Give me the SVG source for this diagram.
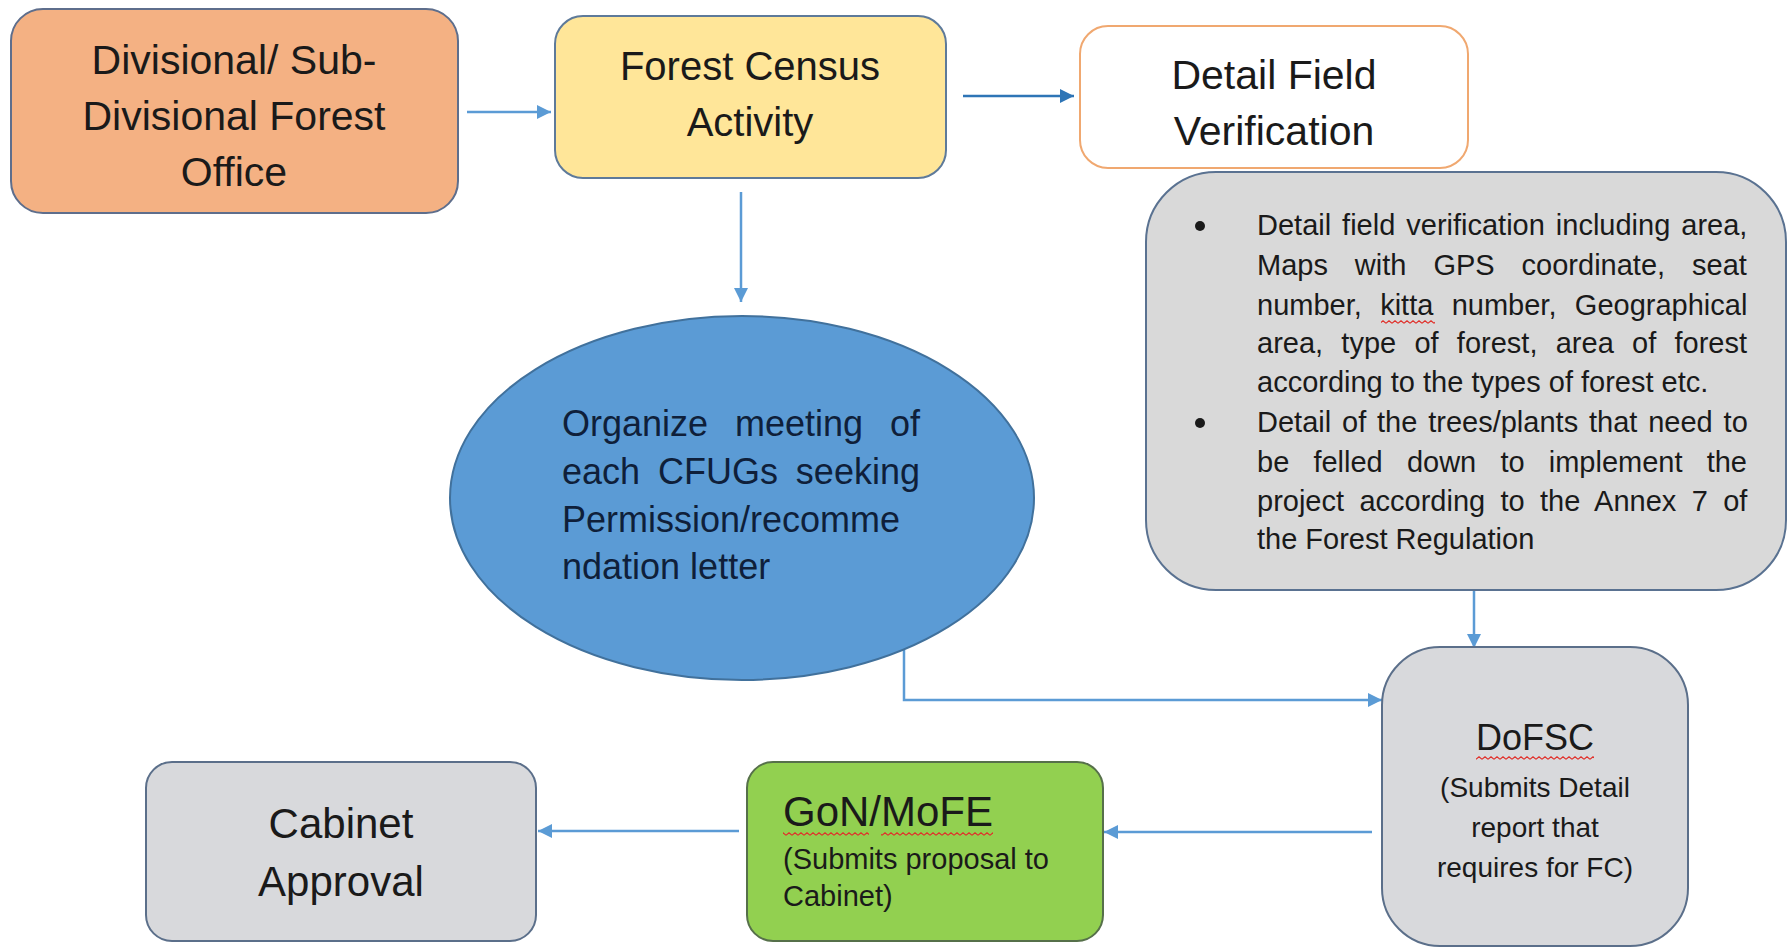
<svg xmlns="http://www.w3.org/2000/svg" width="1788" height="949" viewBox="0 0 1788 949">
<defs>
<style>
text{font-family:"Liberation Sans",Arial,sans-serif;fill:#1a1a1a}
.c{text-anchor:middle}
.big{font-size:41px}
.mid{font-size:29px}
.ell{font-size:36px;fill:#0f1f3a}
.conn{fill:none;stroke:#5B9BD5;stroke-width:2.5}
.sq{fill:url(#squig)}
</style>
<marker id="ah" markerUnits="userSpaceOnUse" markerWidth="16" markerHeight="14" refX="14" refY="7" orient="auto">
<path d="M0,0 L14,7 L0,14 z" fill="#5B9BD5"/>
</marker>
<marker id="ah2" markerUnits="userSpaceOnUse" markerWidth="16" markerHeight="14" refX="14" refY="7" orient="auto">
<path d="M0,0 L14,7 L0,14 z" fill="#2E75B6"/>
</marker>
<pattern id="squig" width="6" height="4" patternUnits="userSpaceOnUse">
<path d="M0 3.2 L3 0.8 L6 3.2" fill="none" stroke="#e0302a" stroke-width="1.1"/>
</pattern>
</defs>
<rect width="1788" height="949" fill="#ffffff"/>

<g id="connectors">
<line class="conn" x1="467" y1="112" x2="551" y2="112" marker-end="url(#ah)"/>
<line class="conn" x1="963" y1="96" x2="1074" y2="96" style="stroke:#2E75B6" marker-end="url(#ah2)"/>
<line class="conn" x1="741" y1="192" x2="741" y2="302" marker-end="url(#ah)"/>
<path class="conn" d="M904 650 V700 H1382" marker-end="url(#ah)"/>
<line class="conn" x1="1474" y1="590" x2="1474" y2="648" marker-end="url(#ah)"/>
<line class="conn" x1="1372" y1="832" x2="1104" y2="832" marker-end="url(#ah)"/>
<line class="conn" x1="739" y1="831" x2="538" y2="831" marker-end="url(#ah)"/>
</g>

<g id="divisional-office">
<rect x="11" y="9" width="447" height="204" rx="32" fill="#F4B183" stroke="#5E6E8C" stroke-width="2"/>
<text class="c big" x="234" y="74">Divisional/ Sub-</text>
<text class="c big" x="234" y="130">Divisional Forest</text>
<text class="c big" x="234" y="186">Office</text>
</g>

<g id="forest-census">
<rect x="555" y="16" width="391" height="162" rx="28" fill="#FFE699" stroke="#5E7A9A" stroke-width="2"/>
<text class="c" style="font-size:40px" x="750" y="80">Forest Census</text>
<text class="c" style="font-size:40px" x="750" y="136">Activity</text>
</g>

<g id="detail-field-verification">
<rect x="1080" y="26" width="388" height="142" rx="28" fill="#ffffff" stroke="#F0A870" stroke-width="2"/>
<text class="c big" x="1274" y="89">Detail Field</text>
<text class="c big" x="1274" y="145">Verification</text>
</g>

<g id="verification-details">
<rect x="1146" y="172" width="640" height="418" rx="70" fill="#D9D9D9" stroke="#5A7291" stroke-width="2"/>
<circle cx="1200" cy="226" r="5" fill="#1a1a1a"/>
<circle cx="1200" cy="423" r="5" fill="#1a1a1a"/>
<text class="mid" x="1257" y="235" style="word-spacing:2.9px">Detail field verification including area,</text>
<text class="mid" x="1257" y="275" style="word-spacing:18.9px">Maps with GPS coordinate, seat</text>
<text class="mid" x="1257" y="315" style="word-spacing:10.3px">number, kitta number, Geographical</text>
<text class="mid" x="1257" y="353" style="word-spacing:10.2px">area, type of forest, area of forest</text>
<text class="mid" x="1257" y="392">according to the types of forest etc.</text>
<text class="mid" x="1257" y="432" style="word-spacing:2.8px">Detail of the trees/plants that need to</text>
<text class="mid" x="1257" y="472" style="word-spacing:16.1px">be felled down to implement the</text>
<text class="mid" x="1257" y="511" style="word-spacing:7.3px">project according to the Annex 7 of</text>
<text class="mid" x="1257" y="549">the Forest Regulation</text>
<rect class="sq" x="1381" y="320" width="54" height="4"/>
</g>

<g id="organize-meeting">
<ellipse cx="742" cy="498" rx="292" ry="182" fill="#5B9BD5" stroke="#41719C" stroke-width="2"/>
<text class="ell" x="562" y="436" style="word-spacing:16.9px">Organize meeting of</text>
<text class="ell" x="562" y="484" style="word-spacing:7.9px">each CFUGs seeking</text>
<text class="ell" x="562" y="532">Permission/recomme</text>
<text class="ell" x="562" y="579">ndation letter</text>
</g>

<g id="dofsc">
<rect x="1382" y="647" width="306" height="299" rx="58" fill="#D8D9DC" stroke="#5B6F8A" stroke-width="2"/>
<text class="c" style="font-size:36px" x="1535" y="750">DoFSC</text>
<rect class="sq" x="1476" y="756" width="118" height="4"/>
<text class="c" style="font-size:28px" x="1535" y="797">(Submits Detail</text>
<text class="c" style="font-size:28px" x="1535" y="837">report that</text>
<text class="c" style="font-size:28px" x="1535" y="877">requires for FC)</text>
</g>

<g id="gon-mofe">
<rect x="747" y="762" width="356" height="179" rx="26" fill="#92D050" stroke="#56704A" stroke-width="2"/>
<text style="font-size:42px" x="783" y="826">GoN/MoFE</text>
<rect class="sq" x="783" y="832" width="86" height="4"/>
<rect class="sq" x="881" y="832" width="112" height="4"/>
<text class="mid" x="783" y="869">(Submits proposal to</text>
<text class="mid" x="783" y="906">Cabinet)</text>
</g>

<g id="cabinet-approval">
<rect x="146" y="762" width="390" height="179" rx="26" fill="#D8D9DC" stroke="#5B6F8A" stroke-width="2"/>
<text class="c" style="font-size:42px" x="341" y="838">Cabinet</text>
<text class="c" style="font-size:42px" x="341" y="896">Approval</text>
</g>
</svg>
